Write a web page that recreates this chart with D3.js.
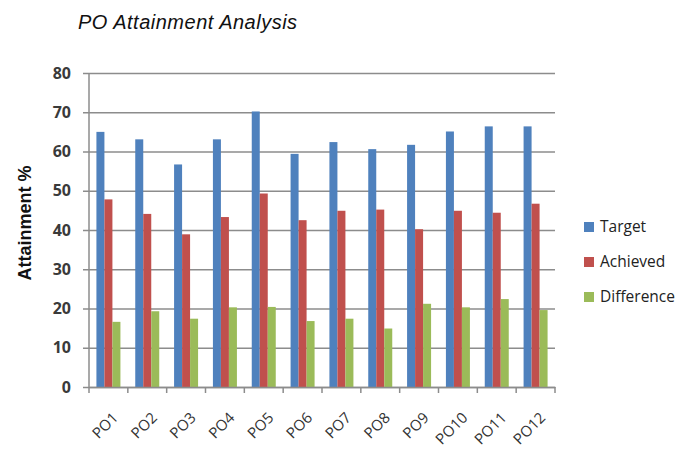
<!DOCTYPE html>
<meta charset="utf-8">
<head>
<script src="https://d3js.org/d3.v7.min.js"></script>
<style>
  body { margin: 0; background: #fff; font-family: "Open Sans", "Liberation Sans", Arial, sans-serif; }
</style>
</head>
<body>
<svg></svg>
<script>
  // Data
  var categories = ["PO1","PO2","PO3","PO4","PO5","PO6","PO7","PO8","PO9","PO10","PO11","PO12"];
  var seriesNames = ["Target", "Achieved", "Difference"];
  var target     = [65.0, 63.1, 56.7, 63.1, 70.2, 59.4, 62.4, 60.6, 61.7, 65.1, 66.4, 66.4];
  var achieved   = [47.8, 44.1, 38.9, 43.3, 49.3, 42.5, 44.9, 45.2, 40.2, 44.9, 44.4, 46.7];
  var difference = [16.6, 19.3, 17.4, 20.3, 20.4, 16.8, 17.4, 14.9, 21.2, 20.3, 22.4, 19.6];
  var yTicks = [0, 10, 20, 30, 40, 50, 60, 70, 80];

  var colors = ["#4F81BD", "#C0504D", "#9BBB59"];
  var series = [target, achieved, difference];

  var width = 678, height = 449;
  var margin = { left: 89, top: 73, right: 123, bottom: 62 };
  var plotW = width - margin.left - margin.right,
      plotH = height - margin.top - margin.bottom;

  var svg = d3.select("svg").attr("width", width).attr("height", height);

  var x = d3.scaleBand().domain(categories).range([0, plotW]);
  var xs = d3.scaleBand().domain(seriesNames).range([0, 24]);
  var y = d3.scaleLinear().domain([0, 80]).range([plotH, 0]);

  var g = svg.append("g")
      .attr("transform", "translate(" + margin.left + "," + margin.top + ")");

  // gridlines + y ticks
  var yAxis = g.append("g")
      .call(d3.axisLeft(y).tickValues(yTicks).tickSize(-plotW).tickPadding(18).tickSizeOuter(0));
  yAxis.select(".domain").remove();
  yAxis.selectAll(".tick line").attr("stroke", "#8c8c8c").attr("stroke-width", 1.5).attr("x1", -6);
  yAxis.selectAll(".tick text")
      .attr("font-family", "'Open Sans', sans-serif")
      .attr("font-size", 16).attr("font-weight", "bold").attr("fill", "#3a3a3a");

  // left axis line
  g.append("line").attr("x1", 0).attr("x2", 0).attr("y1", 0).attr("y2", plotH)
      .attr("stroke", "#8c8c8c").attr("stroke-width", 1.5);

  // bars
  seriesNames.forEach(function (s, si) {
    g.append("g").selectAll("rect")
      .data(series[si])
      .enter().append("rect")
      .attr("x", function (d, i) { return x(categories[i]) + (x.bandwidth() - 24) / 2 + xs(s); })
      .attr("y", function (d) { return y(d); })
      .attr("width", xs.bandwidth())
      .attr("height", function (d) { return plotH - y(d); })
      .attr("fill", colors[si]);
  });

  // x axis
  var xAxis = g.append("g")
      .attr("transform", "translate(0," + plotH + ")")
      .call(d3.axisBottom(x).tickSize(0).tickPadding(0));
  xAxis.select(".domain").attr("stroke", "#8c8c8c").attr("stroke-width", 1.5);
  xAxis.selectAll(".tick text")
      .attr("font-family", "'Open Sans', sans-serif")
      .attr("font-size", 15).attr("fill", "#333")
      .attr("text-anchor", "end")
      .attr("transform", "translate(7,28) rotate(-45)")
      .attr("dy", "0.35em");
  // category boundary ticks
  g.append("g").selectAll("line")
      .data(categories.concat(["end"]))
      .enter().append("line")
      .attr("x1", function (d, i) { return i * x.step(); })
      .attr("x2", function (d, i) { return i * x.step(); })
      .attr("y1", plotH).attr("y2", plotH + 6)
      .attr("stroke", "#8c8c8c").attr("stroke-width", 1.5);

  // title
  svg.append("text")
      .attr("x", 78).attr("y", 29)
      .attr("font-family", "'Liberation Sans', Arial, sans-serif")
      .attr("font-size", 20).attr("font-style", "italic").attr("letter-spacing", 0.5)
      .attr("fill", "#111")
      .text("PO Attainment Analysis");

  // y label
  svg.append("text")
      .attr("transform", "translate(31," + (margin.top + plotH / 2 - 7) + ") rotate(-90)")
      .attr("text-anchor", "middle")
      .attr("font-family", "'Liberation Sans', Arial, sans-serif")
      .attr("font-size", 18).attr("font-weight", "bold").attr("fill", "#111")
      .text("Attainment %");

  // legend
  var legend = svg.append("g").selectAll("g")
      .data(seriesNames)
      .enter().append("g")
      .attr("transform", function (d, i) { return "translate(584," + (222 + i * 35) + ")"; });
  legend.append("rect").attr("width", 10).attr("height", 10)
      .attr("fill", function (d, i) { return colors[i]; });
  legend.append("text").attr("x", 16).attr("y", 5).attr("dy", "0.35em")
      .attr("font-family", "'Open Sans', sans-serif")
      .attr("font-size", 15.5).attr("fill", "#222")
      .text(function (d) { return d; });
</script>
</body>
